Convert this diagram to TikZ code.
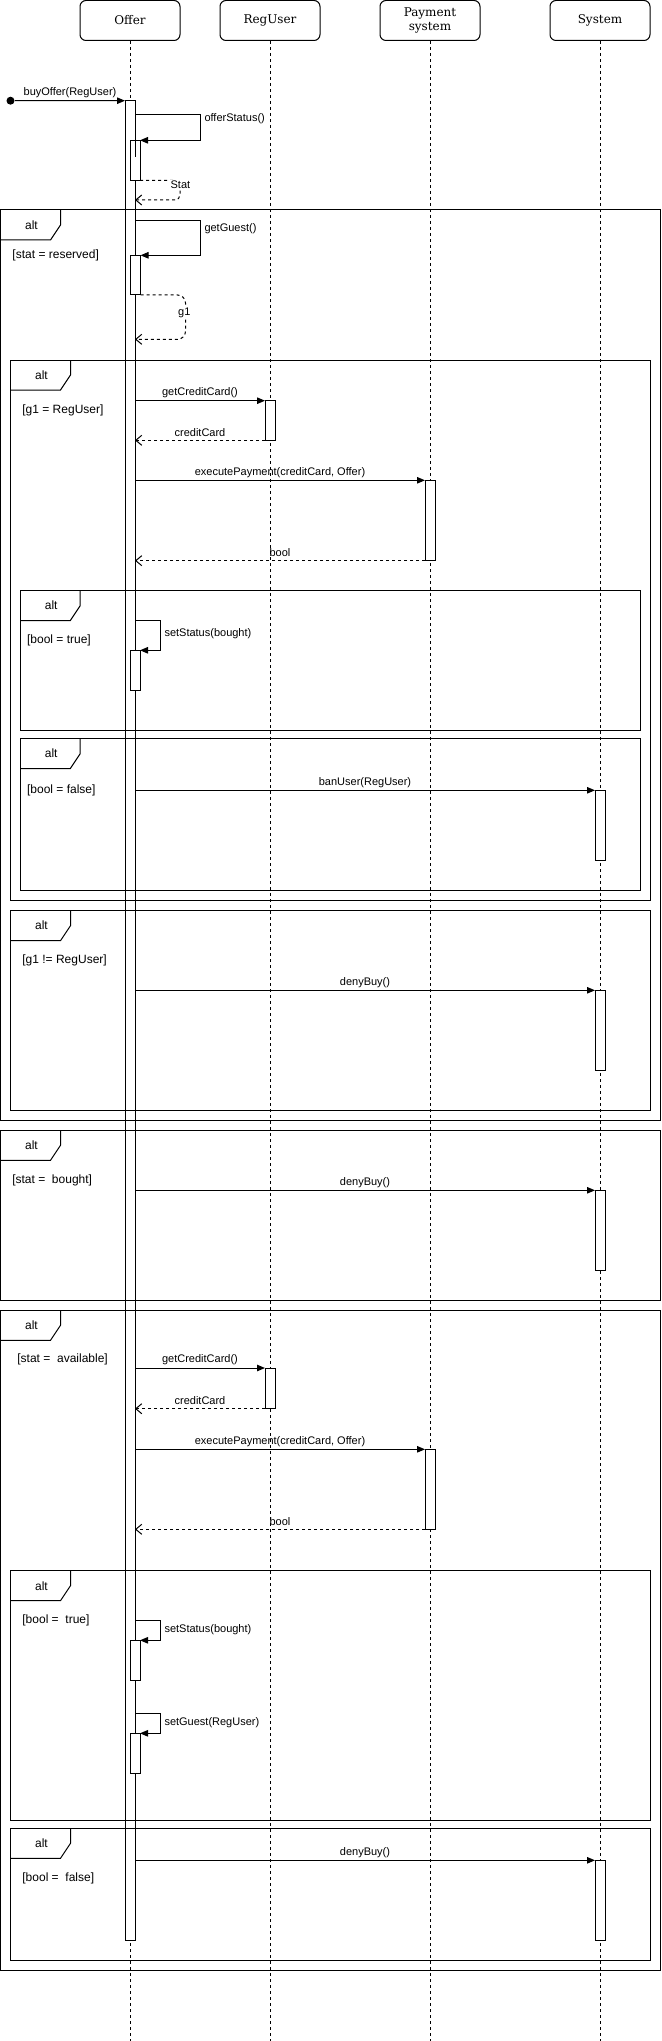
\documentclass[tikz,border=0pt]{standalone}
\usepackage{fontspec}
\newfontfamily\msgf{Liberation Sans}
\newfontfamily\headf{DejaVu Serif}
\usetikzlibrary{arrows.meta,calc}
\newcommand\altbox[8]{%
  \node[frm, minimum width=#4-#2, minimum height=#5-#3] (#1) at (#2,#3) {};
  \draw ($(#1.north west)+(60,0)$) -- ++(0,15) -- ++(-10,15) -- ($(#1.north west)+(0,30)$);
  \node[altl] (#1alt) at ($(#1.north west)+(31,15)$) {alt};
  \node[grd] (#1g) at (#7,#8) {#6};
}
\begin{document}
\begin{tikzpicture}[x=1pt,y=-1pt, line width=1pt,
  head/.style={draw, rounded corners=6pt, fill=white, minimum width=100pt, minimum height=40pt, inner sep=0pt, align=center, font=\headf\fontsize{12}{14.7}\selectfont},
  life/.style={dash pattern=on 3pt off 3pt},
  act/.style={draw, fill=white, minimum width=10pt, inner sep=0pt, outer sep=0pt},
  msg/.style={-{Triangle[length=8pt,width=6.5pt]}},
  ret/.style={dash pattern=on 3pt off 3pt, -{Straight Barb[length=6pt,width=10pt]}},
  lbl/.style={inner sep=0pt, font=\msgf\fontsize{11}{13}\selectfont},
  grd/.style={inner sep=0pt, anchor=west, font=\msgf\fontsize{12}{14}\selectfont},
  altl/.style={inner sep=0pt, font=\msgf\fontsize{12}{14}\selectfont},
  frm/.style={draw, inner sep=0pt, outer sep=0pt, anchor=north west},
]
\useasboundingbox (0,0) rectangle (661,2041);

% lifelines
\node[head] (offer) at (130,20.5) {Offer};
\node[head] (reguser) at (270,20.5) {RegUser};
\node[head] (pay) at (430,20.5) {Payment\\system};
\node[head] (sys) at (600,20.5) {System};
\coordinate (offerE) at (130,2041);
\coordinate (reguserE) at (270,2041);
\coordinate (payE) at (430,2041);
\coordinate (sysE) at (600,2041);
\draw[life] (offer.south) -- (offerE);
\draw[life] (reguser.south) -- (reguserE);
\draw[life] (pay.south) -- (payE);
\draw[life] (sys.south) -- (sysE);

% activations
\node[act, minimum height=1839.3pt] (mainA) at (130,1020.35) {};
\node[act, minimum height=40pt] (n1) at (135,160.3) {};
\node[act, minimum height=39.7pt] (n2) at (135.5,275.15) {};
\node[act, minimum height=39.6pt] (r1) at (270,420.5) {};
\node[act, minimum height=80.4pt] (p1) at (430,520.5) {};
\node[act, minimum height=40pt] (n3) at (135,670.3) {};
\node[act, minimum height=70pt] (s1) at (600,825.3) {};
\node[act, minimum height=80pt] (s2) at (600,1030.3) {};
\node[act, minimum height=80pt] (s3) at (600,1230.3) {};
\node[act, minimum height=40.7pt] (r2) at (270,1388.35) {};
\node[act, minimum height=80pt] (p2) at (430,1489.3) {};
\node[act, minimum height=40pt] (n4) at (135,1660.3) {};
\node[act, minimum height=40pt] (n5) at (135,1753.3) {};
\node[act, minimum height=80pt] (s4) at (600,1900.3) {};
\draw (mainA.east |- n1.north) -- ++(0,16.4);

% start
\node[circle, fill, inner sep=0pt, minimum size=8pt] (start) at (10.5,100.7) {};
\draw[msg] (start) -- (mainA.north west) node[lbl, midway, yshift=8pt] (l1) {buyOffer(RegUser)};

% offerStatus
\coordinate (os) at (135,114.3);
\draw[msg] (os) -- ++(65.3,0) |- (n1.north east);
\node[lbl, anchor=west] (l2) at (204,118.3) {offerStatus()};
\coordinate (st) at (135,200);
\draw[ret, rounded corners=5pt] (n1.south east) -- ++(40,0) -- ++(0,19.7) -- (st);
\node[lbl, fill=white, inner sep=1pt] (l3) at (180.4,185) {Stat};

% getGuest
\coordinate (gg) at (135,220.7);
\draw[msg] (gg) -- ++(65.3,0) |- (n2.north east);
\node[lbl, anchor=west] (l4) at (204,228.3) {getGuest()};
\coordinate (g1e) at (135,339.3);
\draw[ret, rounded corners=8pt] (n2.south east) -- ++(45,0) -- ++(0,44.3) -- (g1e);
\node[lbl, fill=white, inner sep=1.5pt] (l5) at (184.3,312.7) {g1};

% g1 = RegUser
\draw[msg] (mainA.east |- r1.north) -- (r1.north west) node[lbl, midway, yshift=8pt] (l6) {getCreditCard()};
\draw[ret] (r1.south west) -- (mainA.east |- r1.south) node[lbl, midway, yshift=7.5pt] (l7) {creditCard};
\draw[msg] (mainA.east |- p1.north) -- (p1.north west) node[lbl, midway, yshift=8pt] (l8) {executePayment(creditCard, Offer)};
\draw[ret] (p1.south west) -- (mainA.east |- p1.south) node[lbl, midway, yshift=8.5pt] (l9) {bool};

\coordinate (ss1) at (135,620.3);
\draw[msg] (ss1) -- ++(25.6,0) |- (n3.north east);
\node[lbl, anchor=west] (l10) at (164,634) {setStatus(bought)};

\draw[msg] (mainA.east |- s1.north) -- (s1.north west) node[lbl, midway, yshift=8pt] (l11) {banUser(RegUser)};
\draw[msg] (mainA.east |- s2.north) -- (s2.north west) node[lbl, midway, yshift=8pt] (l12) {denyBuy()};
\draw[msg] (mainA.east |- s3.north) -- (s3.north west) node[lbl, midway, yshift=8pt] (l13) {denyBuy()};

% available
\draw[msg] (mainA.east |- r2.north) -- (r2.north west) node[lbl, midway, yshift=8pt] (l14) {getCreditCard()};
\draw[ret] (r2.south west) -- (mainA.east |- r2.south) node[lbl, midway, yshift=8pt] (l15) {creditCard};
\draw[msg] (mainA.east |- p2.north) -- (p2.north west) node[lbl, midway, yshift=8pt] (l16) {executePayment(creditCard, Offer)};
\draw[ret] (p2.south west) -- (mainA.east |- p2.south) node[lbl, midway, yshift=8pt] (l17) {bool};

\coordinate (ss2) at (135,1620.7);
\draw[msg] (ss2) -- ++(25.6,0) |- (n4.north east);
\node[lbl, anchor=west] (l18) at (164,1629.3) {setStatus(bought)};
\coordinate (sg) at (135,1713.7);
\draw[msg] (sg) -- ++(25.6,0) |- (n5.north east);
\node[lbl, anchor=west] (l19) at (164,1722.3) {setGuest(RegUser)};
\draw[msg] (mainA.east |- s4.north) -- (s4.north west) node[lbl, midway, yshift=8pt] (l20) {denyBuy()};

% frames
\altbox{f1}{0.5}{210}{660}{1120}{[stat = reserved]}{12}{255}
\altbox{f2}{10.5}{360}{650.5}{900}{[g1 = RegUser]}{21.9}{410}
\altbox{f3}{20.2}{590.7}{640.8}{730.3}{[bool = true]}{26.6}{640}
\altbox{f4}{20.2}{738.7}{640.8}{890.3}{[bool = false]}{26.6}{790}
\altbox{f5}{10.5}{910.7}{650.5}{1110}{[g1 != RegUser]}{21.9}{960}
\altbox{f6}{0.5}{1130.3}{660}{1300}{[stat =\ \ bought]}{11.8}{1180}
\altbox{f7}{0.5}{1310.3}{660}{1970.3}{[stat =\ \ available]}{16.9}{1359}
\altbox{f8}{10.5}{1570.7}{650.5}{1820.3}{[bool =\ \ true]}{21.9}{1620}
\altbox{f9}{10.5}{1828.3}{650.5}{1960.3}{[bool =\ \ false]}{21.9}{1878}
\end{tikzpicture}
\end{document}
